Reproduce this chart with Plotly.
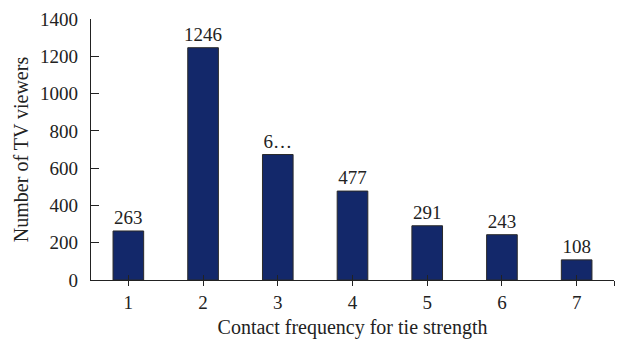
import plotly.graph_objects as go

categories = [1, 2, 3, 4, 5, 6, 7]
viewers = [263, 1246, 673, 477, 291, 243, 108]
bar_labels = ["263", "1246", "6…", "477", "291", "243", "108"]
y_ticks = [0, 200, 400, 600, 800, 1000, 1200, 1400]
x_tick_vals = [1, 2, 3, 4, 5, 6, 7, 7.5]
x_tick_text = ["1", "2", "3", "4", "5", "6", "7", ""]

FONT = "Liberation Serif, Times New Roman, serif"
TXT = "#222222"
FS = 19
TFS = 20

fig = go.Figure()
fig.add_trace(go.Bar(
    x=categories, y=viewers, width=0.41,
    marker=dict(color="#13286a", line=dict(color="#2a2a2a", width=1)),
    text=bar_labels, textposition="outside", cliponaxis=False,
    constraintext="none",
    textfont=dict(family=FONT, size=FS, color=TXT),
    showlegend=False,
))
fig.add_trace(go.Scatter(x=[1], y=[None], xaxis="x2", showlegend=False,
                         hoverinfo="skip", mode="markers"))

fig.update_layout(
    width=621, height=338,
    margin=dict(l=83, r=15, t=11, b=66),
    plot_bgcolor="white", paper_bgcolor="white",
    font=dict(family=FONT, size=FS, color=TXT),
    xaxis=dict(
        range=[0.5, 7.5], tickmode="array", tickvals=x_tick_vals, ticktext=x_tick_text,
        ticks="outside", ticklen=5, tickcolor=TXT, tickwidth=1.3,
        showline=True, linecolor=TXT, linewidth=1.3, showgrid=False, zeroline=False,
        automargin=False,
        title=dict(text="Contact frequency for tie strength", standoff=8,
                   font=dict(family=FONT, size=TFS, color=TXT)),
        tickfont=dict(family=FONT, size=FS, color=TXT),
    ),
    xaxis2=dict(
        range=[0.5, 7.5], overlaying="x", side="bottom", anchor="y",
        tickmode="array", tickvals=x_tick_vals, ticks="inside", ticklen=5,
        tickcolor=TXT, tickwidth=1.3, showticklabels=False, showline=False,
        showgrid=False, zeroline=False, automargin=False,
    ),
    yaxis=dict(
        range=[0, 1400], tickmode="array", tickvals=y_ticks,
        ticks="inside", ticklen=8, tickcolor=TXT, tickwidth=1.3,
        showline=True, linecolor=TXT, linewidth=1.3, showgrid=False, zeroline=False,
        ticklabelstandoff=8, automargin=False, ticklabeloverflow="allow",
        title=dict(text="Number of TV viewers", standoff=6,
                   font=dict(family=FONT, size=TFS, color=TXT)),
        tickfont=dict(family=FONT, size=FS, color=TXT),
    ),
)

fig.write_html("out.html")
